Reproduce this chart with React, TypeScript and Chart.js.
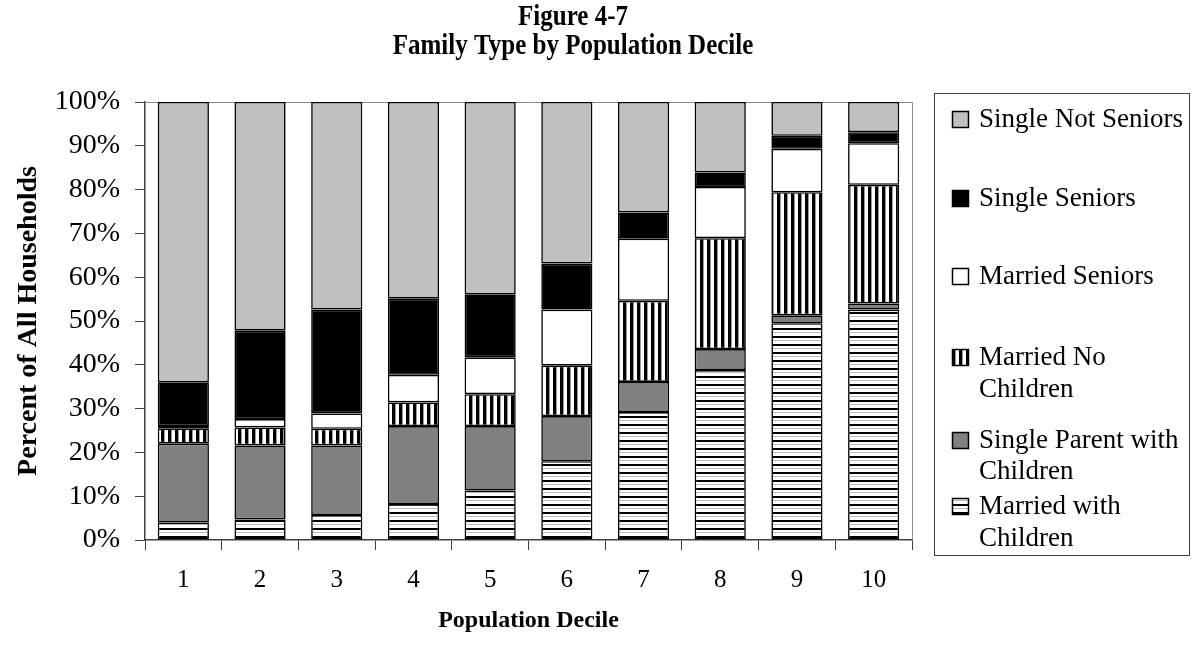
import React, { useEffect, useRef } from 'react';
import { Chart, registerables } from 'chart.js';

Chart.register(...registerables);

const FONT = "'Liberation Serif', 'Times New Roman', Times, serif";

const categories = ['1', '2', '3', '4', '5', '6', '7', '8', '9', '10'];

const marriedWithChildren = [4.0, 4.7, 5.7, 8.2, 11.3, 18.0, 29.2, 38.8, 49.5, 52.6];
const singleParent = [18.0, 16.9, 15.9, 17.8, 14.7, 10.3, 6.9, 4.8, 1.8, 1.4];
const marriedNoChildren = [3.5, 4.1, 3.8, 5.4, 7.3, 11.5, 18.5, 25.3, 28.1, 27.1];
const marriedSeniors = [0.5, 1.9, 3.5, 6.3, 8.4, 12.8, 14.2, 11.7, 9.9, 9.5];
const singleSeniors = [10.0, 20.2, 23.7, 17.4, 14.4, 10.5, 6.0, 3.3, 3.0, 2.5];
const singleNotSeniors = [64.0, 52.2, 47.4, 44.9, 43.9, 36.9, 25.2, 16.1, 7.7, 6.9];

const seriesLabels = [
  'Married with Children',
  'Single Parent with Children',
  'Married No Children',
  'Married Seniors',
  'Single Seniors',
  'Single Not Seniors',
];

// legend text lines (top to bottom)
const legendLines = [
  ['Single Not Seniors'],
  ['Single Seniors'],
  ['Married Seniors'],
  ['Married No', 'Children'],
  ['Single Parent with', 'Children'],
  ['Married with', 'Children'],
];

const titleLines = ['Figure 4-7', 'Family Type by Population Decile'];
const xTitle = 'Population Decile';
const yTitle = 'Percent of All Households';

export default function App() {
  const ref = useRef<HTMLCanvasElement | null>(null);

  useEffect(() => {
    const canvas = ref.current!;
    const c2d = canvas.getContext('2d')!;

    // horizontal stripes pattern
    const hTile = document.createElement('canvas');
    hTile.width = 4;
    hTile.height = 8;
    const ht = hTile.getContext('2d')!;
    ht.fillStyle = '#ffffff';
    ht.fillRect(0, 0, 4, 8);
    ht.fillStyle = '#000000';
    ht.fillRect(0, 0, 4, 2);
    ht.fillStyle = '#bdbdbd';
    ht.fillRect(0, 4, 4, 1);
    const hPattern = c2d.createPattern(hTile, 'repeat')!;

    // vertical stripes pattern
    const vTile = document.createElement('canvas');
    vTile.width = 7;
    vTile.height = 4;
    const vt = vTile.getContext('2d')!;
    vt.fillStyle = '#ffffff';
    vt.fillRect(0, 0, 7, 4);
    vt.fillStyle = '#000000';
    vt.fillRect(0, 0, 3, 4);
    vt.fillStyle = '#9a9a9a';
    vt.fillRect(3, 0, 1, 4);
    const vPattern = c2d.createPattern(vTile, 'repeat')!;

    const fills: (string | CanvasPattern)[] = [
      hPattern,
      '#808080',
      vPattern,
      '#ffffff',
      '#000000',
      '#c0c0c0',
    ];
    const seriesData = [
      marriedWithChildren,
      singleParent,
      marriedNoChildren,
      marriedSeniors,
      singleSeniors,
      singleNotSeniors,
    ];

    const decorPlugin = {
      id: 'decor',
      beforeDatasetsDraw(chart: any) {
        const { ctx, chartArea } = chart;
        ctx.save();
        ctx.strokeStyle = '#8c8c8c';
        ctx.lineWidth = 1;
        ctx.beginPath();
        ctx.moveTo(chartArea.left, chartArea.top + 0.5);
        ctx.lineTo(chartArea.right + 0.5, chartArea.top + 0.5);
        ctx.lineTo(chartArea.right + 0.5, chartArea.bottom);
        ctx.stroke();
        ctx.restore();
      },
      afterDraw(chart: any) {
        const { ctx } = chart;
        ctx.save();
        // title (slightly tall type, as in the reference)
        ctx.fillStyle = '#000';
        ctx.textAlign = 'center';
        ctx.textBaseline = 'alphabetic';
        ctx.font = `bold 25px ${FONT}`;
        const drawTall = (t: string, x: number, y: number) => {
          ctx.save();
          ctx.translate(x, y);
          ctx.scale(1, 1.15);
          ctx.fillText(t, 0, 0);
          ctx.restore();
        };
        drawTall(titleLines[0], 573, 25);
        drawTall(titleLines[1], 573, 54);

        // legend box
        ctx.strokeStyle = '#404040';
        ctx.lineWidth = 1;
        ctx.strokeRect(934.5, 93.5, 255, 462);

        const rowCenters = [[119], [198], [276], [357, 389], [440, 471], [506, 538]];
        const legendFills = fills.slice().reverse();
        ctx.font = `27px ${FONT}`;
        ctx.textAlign = 'left';
        ctx.textBaseline = 'middle';
        legendLines.forEach((lines, i) => {
          const cy = rowCenters[i][0];
          ctx.fillStyle = legendFills[i] as any;
          ctx.fillRect(952, cy - 8, 17, 17);
          ctx.strokeStyle = '#000';
          ctx.lineWidth = 1.5;
          ctx.strokeRect(952.5, cy - 7.5, 16, 16);
          ctx.fillStyle = '#000';
          lines.forEach((t, j) => {
            ctx.fillText(t, 979, rowCenters[i][j] + 1);
          });
        });
        ctx.restore();
      },
    };

    const chart = new Chart(canvas, {
      type: 'bar',
      data: {
        labels: categories,
        datasets: seriesLabels.map((label, i) => ({
          label,
          data: seriesData[i],
          backgroundColor: fills[i] as any,
          borderColor: '#000000',
          borderWidth: 1.6,
          borderSkipped: false,
          barPercentage: 0.667,
          categoryPercentage: 1.0,
        })),
      },
      options: {
        responsive: false,
        animation: false,
        devicePixelRatio: 1,
        layout: { padding: { left: 0, top: 102, right: 280, bottom: 0 } },
        plugins: {
          legend: { display: false },
          title: { display: false },
          tooltip: { enabled: false },
        },
        scales: {
          x: {
            stacked: true,
            ticks: {
              font: { family: FONT, size: 25 },
              color: '#000',
              padding: 15,
            },
            grid: {
              drawOnChartArea: false,
              drawTicks: true,
              tickLength: 10,
              color: '#404040',
              offset: true,
            },
            border: { display: true, color: '#404040', width: 1.5 },
            title: {
              display: true,
              text: xTitle,
              font: { family: FONT, size: 24, weight: 'bold' },
              color: '#000',
              padding: { top: 0, bottom: 17 },
            },
            afterFit: (s: any) => {
              s.height = 112;
            },
          },
          y: {
            stacked: true,
            min: 0,
            max: 100,
            ticks: {
              stepSize: 10,
              callback: (v: any) => `${v}%`,
              font: { family: FONT, size: 28 },
              color: '#000',
              padding: 15,
            },
            grid: {
              drawOnChartArea: false,
              drawTicks: true,
              tickLength: 10,
              color: '#404040',
            },
            border: { display: true, color: '#404040', width: 1.5 },
            title: {
              display: true,
              text: yTitle,
              font: { family: FONT, size: 28, weight: 'bold' },
              color: '#000',
              padding: { top: 12, bottom: 0 },
            },
            afterFit: (s: any) => {
              s.width = 145;
            },
          },
        },
      },
      plugins: [decorPlugin],
    });

    return () => chart.destroy();
  }, []);

  return (
    <div style={{ position: 'fixed', left: 0, top: 0, width: 1192, height: 652, background: '#fff' }}>
      <canvas ref={ref} width={1192} height={652} style={{ display: 'block', width: 1192, height: 652 }} />
    </div>
  );
}
